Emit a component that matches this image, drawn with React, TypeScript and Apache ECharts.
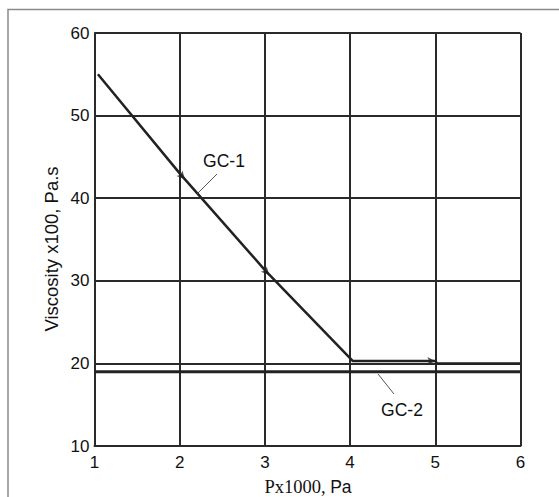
import React, { useEffect, useRef } from "react";
import * as echarts from "echarts";

const xTicks = [1, 2, 3, 4, 5, 6];
const yTicks = [10, 20, 30, 40, 50, 60];
const gc1: [number, number][] = [
  [1.04, 55],
  [2, 43.0],
  [3, 31.3],
  [4.03, 20.3],
  [5, 20.3],
  [5.02, 20],
  [6, 20],
];
const gc2: [number, number][] = [
  [1, 19],
  [6, 19],
];
const arrowMarksSlope: [number, number][] = [
  [2.06, 42.3],
  [3.05, 30.7],
];
const arrowMarksFlat: [number, number][] = [[5, 20.3]];

export default function App() {
  const ref = useRef<HTMLDivElement>(null);
  useEffect(() => {
    if (!ref.current) return;
    const chart = echarts.init(ref.current, null, { renderer: "svg" });
    const axisColor = "#2a2a2a";
    const font = "'Liberation Sans', Arial, sans-serif";
    chart.setOption({
      animation: false,
      backgroundColor: "#fff",
      grid: { left: 94.5, right: 38.5, top: 33, bottom: 51, containLabel: false },
      xAxis: {
        type: "value",
        min: xTicks[0],
        max: xTicks[xTicks.length - 1],
        interval: 1,
        axisLine: { show: true, lineStyle: { color: axisColor, width: 2 } },
        axisTick: { show: false },
        splitLine: { show: true, lineStyle: { color: axisColor, width: 2 } },
        axisLabel: { color: "#111", fontFamily: font, fontSize: 17, margin: 8 },
      },
      yAxis: {
        type: "value",
        min: yTicks[0],
        max: yTicks[yTicks.length - 1],
        interval: 10,
        axisLine: { show: true, lineStyle: { color: axisColor, width: 2 } },
        axisTick: { show: false },
        splitLine: { show: true, lineStyle: { color: axisColor, width: 2 } },
        axisLabel: { color: "#111", fontFamily: font, fontSize: 17, margin: 5 },
      },
      series: [
        {
          type: "line",
          data: gc2,
          symbol: "none",
          lineStyle: { color: "#222", width: 3 },
          z: 3,
        },
        {
          type: "line",
          data: gc1,
          symbol: "none",
          lineStyle: { color: "#222", width: 2.5 },
          z: 4,
        },
        {
          type: "scatter",
          data: arrowMarksSlope,
          symbol: "arrow",
          symbolSize: [6, 8],
          symbolRotate: -138,
          itemStyle: { color: "#222" },
          z: 5,
        },
        {
          type: "scatter",
          data: arrowMarksFlat,
          symbol: "arrow",
          symbolSize: [6, 8],
          symbolRotate: -90,
          itemStyle: { color: "#222" },
          z: 5,
        },
      ],
      graphic: [
        {
          type: "rect",
          shape: { x: 8, y: 9.5, width: 600, height: 600 },
          style: { fill: "none", stroke: "#8a8a8a", lineWidth: 1.5 },
          silent: true,
          z: 0,
        },
        {
          type: "line",
          shape: { x1: 197, y1: 194, x2: 217, y2: 174 },
          style: { stroke: "#555", lineWidth: 1 },
          z: 10,
        },
        {
          type: "text",
          x: 224,
          y: 161,
          style: {
            text: "GC-1",
            fontFamily: font,
            fontSize: 17.5,
            fill: "#111",
            align: "center",
            verticalAlign: "middle",
          },
          z: 10,
        },
        {
          type: "line",
          shape: { x1: 378, y1: 374, x2: 394, y2: 394 },
          style: { stroke: "#555", lineWidth: 1 },
          z: 10,
        },
        {
          type: "text",
          x: 402,
          y: 410,
          style: {
            text: "GC-2",
            fontFamily: font,
            fontSize: 17.5,
            fill: "#111",
            align: "center",
            verticalAlign: "middle",
          },
          z: 10,
        },
        {
          type: "text",
          x: 51,
          y: 249,
          rotation: Math.PI / 2,
          style: {
            text: "Viscosity x100, Pa.s",
            fontFamily: font,
            fontSize: 18.5,
            fill: "#111",
            align: "center",
            verticalAlign: "middle",
          },
          z: 10,
        },
        {
          type: "text",
          x: 308,
          y: 487,
          style: {
            text: "{s|Px1000, }{a|Pa}",
            align: "center",
            verticalAlign: "middle",
            rich: {
              s: { fontFamily: "'Liberation Serif', 'Times New Roman', serif", fontSize: 18.5, fill: "#111" },
              a: { fontFamily: font, fontSize: 17.5, fill: "#111" },
            },
          },
          z: 10,
        },
      ],
    });
    return () => chart.dispose();
  }, []);
  return (
    <div
      ref={ref}
      style={{ position: "fixed", left: 0, top: 0, width: 559, height: 497 }}
    />
  );
}
